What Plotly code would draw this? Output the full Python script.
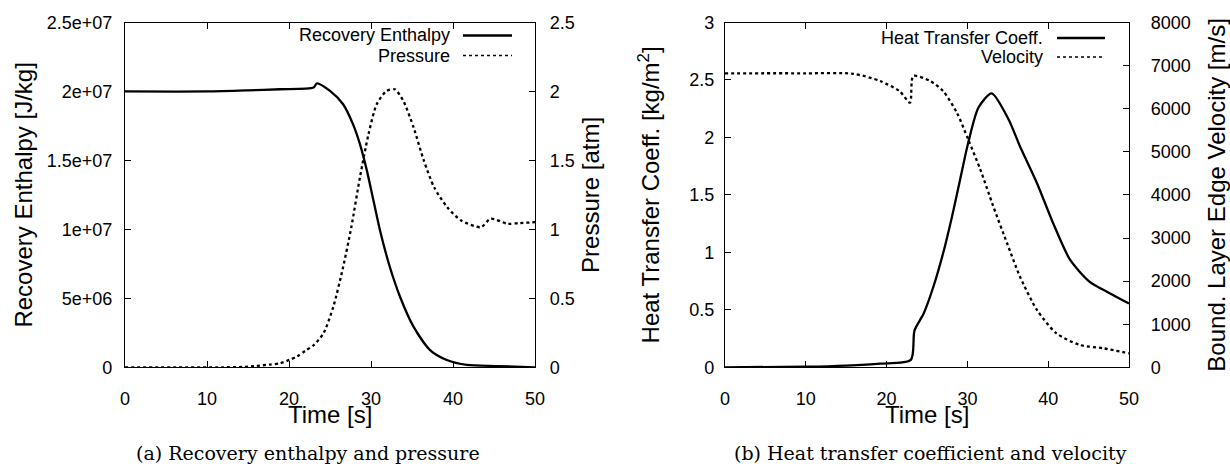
import plotly.graph_objects as go

# ---------------- data ----------------
# (a) Recovery enthalpy [J/kg]
t_enth = [0, 10, 15, 18.9, 23.0, 23.4, 25.0, 26.6, 27.8, 28.65, 29.5, 30.3, 31.1,
          32.3, 33.55, 35.2, 37.2, 39.25, 41.7, 45.4, 50]
enthalpy = [2.0e7, 2.0e7, 2.008e7, 2.016e7, 2.028e7, 2.059e7, 2.004e7, 1.907e7, 1.763e7,
            1.618e7, 1.426e7, 1.209e7, 0.992e7, 0.727e7, 0.510e7, 0.293e7, 0.125e7,
            0.053e7, 0.017e7, 0.009e7, 0.0]

# (a) Pressure [atm]
t_pres = [0, 12, 14.4, 16, 17.7, 18.9, 20.1, 21.0, 22.0, 23.0, 24.2, 25.4, 26.6, 27.6,
          28.65, 29.7, 30.7, 31.9, 32.9, 33.95, 35.2, 36.45, 37.7, 39.3, 41.0, 43.4,
          44.6, 46.7, 48.0, 50]
pressure = [0, 0, 0.003, 0.01, 0.02, 0.029, 0.055, 0.08, 0.12, 0.16, 0.246, 0.438, 0.727,
            1.016, 1.377, 1.691, 1.908, 2.004, 2.016, 1.931, 1.738, 1.498, 1.305, 1.160,
            1.064, 1.016, 1.077, 1.040, 1.045, 1.052]

# (b) Heat transfer coefficient [kg/m^2]
t_htc = [0, 10, 15, 19.2, 23.0, 23.45, 24.6, 25.8, 27.0, 28.1, 29.1, 30.1, 31.36, 33.0,
         35.1, 36.5, 38.6, 40.6, 42.7, 45.1, 47.6, 50]
htc = [0, 0.005, 0.015, 0.032, 0.064, 0.319, 0.47, 0.703, 0.994, 1.313, 1.633, 1.953,
       2.258, 2.383, 2.156, 1.923, 1.604, 1.256, 0.936, 0.746, 0.645, 0.555]

# (b) Boundary layer edge velocity [m/s]
t_vel = [0, 10, 15.9, 19.2, 21.6, 22.9, 23.3, 25.4, 27.0, 28.7, 30.1, 31.6, 33.2, 34.9,
         36.5, 38.6, 41.0, 43.9, 46.8, 50]
velocity = [6821, 6821, 6810, 6642, 6409, 6140, 6758, 6642, 6409, 5907, 5286, 4588, 3735,
            2884, 2107, 1333, 791, 519, 442, 325]

# tick labels
x_ticks = [0, 10, 20, 30, 40, 50]
enth_ticks = [0, 5e6, 1e7, 1.5e7, 2e7, 2.5e7]
enth_ticktext = ["0", "5e+06", "1e+07", "1.5e+07", "2e+07", "2.5e+07"]
pres_ticks = [0, 0.5, 1, 1.5, 2, 2.5]
pres_ticktext = ["0", "0.5", "1", "1.5", "2", "2.5"]
htc_ticks = [0, 0.5, 1, 1.5, 2, 2.5, 3]
htc_ticktext = ["0", "0.5", "1", "1.5", "2", "2.5", "3"]
vel_ticks = [0, 1000, 2000, 3000, 4000, 5000, 6000, 7000, 8000]

# ---------------- figure ----------------
W, H = 1230, 464
FONT = "Liberation Sans, Arial, Helvetica, sans-serif"
TICKFONT = dict(family=FONT, size=18, color="black")
TITLEFONT = dict(family=FONT, size=24, color="black")
LW = 2.3
SM = 0.7

fig = go.Figure()
fig.add_trace(go.Scatter(x=t_enth, y=enthalpy, mode="lines", name="Recovery Enthalpy",
                         line=dict(color="black", width=LW, shape="spline", smoothing=SM),
                         xaxis="x", yaxis="y"))
fig.add_trace(go.Scatter(x=t_pres, y=pressure, mode="lines", name="Pressure",
                         line=dict(color="black", width=LW, dash="dot", shape="spline", smoothing=SM),
                         xaxis="x", yaxis="y2"))
fig.add_trace(go.Scatter(x=t_htc, y=htc, mode="lines", name="Heat Transfer Coeff.",
                         line=dict(color="black", width=LW, shape="spline", smoothing=SM),
                         xaxis="x2", yaxis="y3"))
fig.add_trace(go.Scatter(x=t_vel, y=velocity, mode="lines", name="Velocity",
                         line=dict(color="black", width=LW, dash="dot", shape="spline", smoothing=SM),
                         xaxis="x2", yaxis="y4"))

ydom = [(H - 367.3) / H, (H - 22.5) / H]
common = dict(showline=True, linecolor="black", linewidth=1.2, ticks="inside", ticklen=6,
              tickwidth=1.2, tickcolor="black", showgrid=False, zeroline=False,
              tickfont=TICKFONT, automargin=False, fixedrange=True)

fig.update_layout(
    width=W, height=H, template="none",
    margin=dict(l=0, r=0, t=0, b=0),
    paper_bgcolor="white", plot_bgcolor="white", showlegend=False,
    xaxis=dict(domain=[125 / W, 535 / W], range=[0, 50], tickvals=x_ticks, mirror="ticks",
               anchor="y", ticklabelstandoff=15, **common),
    yaxis=dict(domain=ydom, range=[0, 2.5e7], tickvals=enth_ticks, ticktext=enth_ticktext,
               anchor="x", title=dict(text="Recovery Enthalpy [J/kg]", font=TITLEFONT, standoff=7),
               ticklabelstandoff=8, **common),
    yaxis2=dict(range=[0, 2.5], tickvals=pres_ticks, ticktext=pres_ticktext, overlaying="y",
                side="right", anchor="x",
                title=dict(text="Pressure [atm]", font=TITLEFONT, standoff=8),
                ticklabelstandoff=10, **common),
    xaxis2=dict(domain=[725 / W, 1129 / W], range=[0, 50], tickvals=x_ticks, mirror="ticks",
                anchor="y3", ticklabelstandoff=15, **common),
    yaxis3=dict(domain=ydom, range=[0, 3], tickvals=htc_ticks, ticktext=htc_ticktext,
                anchor="x2",
                title=dict(text="Heat Transfer Coeff. [kg/m<sup>2</sup>]", font=TITLEFONT, standoff=22),
                ticklabelstandoff=6, **common),
    yaxis4=dict(range=[0, 8000], tickvals=vel_ticks, overlaying="y3", side="right", anchor="x2",
                title=dict(text="Bound. Layer Edge Velocity [m/s]", font=TITLEFONT, standoff=20),
                ticklabelstandoff=17, **common),
)

# x-axis titles (placed precisely under each panel)
for xc in (330, 927):
    fig.add_annotation(x=xc / W, y=(H - 414) / H, xref="paper", yref="paper", text="Time [s]",
                       showarrow=False, xanchor="center", yanchor="middle", font=TITLEFONT)

# legends drawn gnuplot-style: right-aligned text followed by a line sample
LEGFONT = dict(family=FONT, size=18, color="black")
legends = [
    ("Recovery Enthalpy", 452, 463, 512, 35.5, "solid"),
    ("Pressure", 452, 463, 512, 55.5, "dot"),
    ("Heat Transfer Coeff.", 1045, 1057, 1105, 38, "solid"),
    ("Velocity", 1045, 1057, 1105, 57, "dot"),
]
for text, xt, x0, x1, yy, dash in legends:
    fig.add_annotation(x=xt / W, y=(H - yy) / H, xref="paper", yref="paper", text=text,
                       showarrow=False, xanchor="right", yanchor="middle", font=LEGFONT)
    fig.add_shape(type="line", xref="paper", yref="paper", x0=x0 / W, x1=x1 / W,
                  y0=(H - yy) / H, y1=(H - yy) / H,
                  line=dict(color="black", width=LW if dash == "solid" else 1.6, dash=dash))

# sub-figure captions
CAPFONT = dict(family="DejaVu Serif, Liberation Serif, serif", size=19, color="black")
fig.add_annotation(x=308 / W, y=(H - 453) / H, xref="paper", yref="paper",
                   text="(a) Recovery enthalpy and pressure", showarrow=False,
                   xanchor="center", yanchor="middle", font=CAPFONT)
fig.add_annotation(x=930 / W, y=(H - 453) / H, xref="paper", yref="paper",
                   text="(b) Heat transfer coefficient and velocity", showarrow=False,
                   xanchor="center", yanchor="middle", font=CAPFONT)

fig.write_html(
    "out.html",
    config={"displayModeBar": False},
    post_script="document.body.style.margin='0px';document.body.style.padding='0px';"
                "document.body.style.overflow='hidden';",
)
